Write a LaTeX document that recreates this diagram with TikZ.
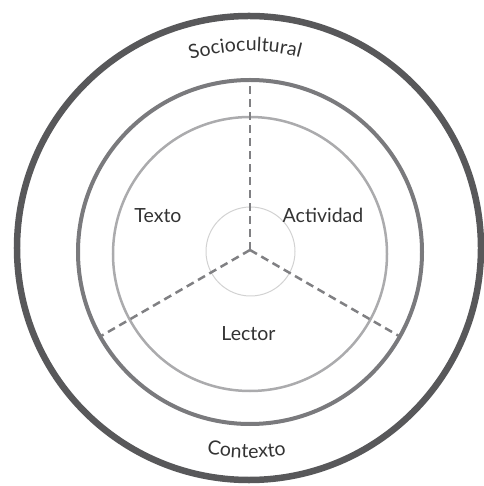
\documentclass[tikz,border=0pt]{standalone}
\usepackage{fontspec}
\setmainfont{Lato}
\usetikzlibrary{decorations.text}
\definecolor{anilloext}{HTML}{58585A}
\definecolor{anillomed}{HTML}{7A7A7D}
\definecolor{anilloint}{HTML}{ABABAD}
\definecolor{nucleo}{HTML}{D2D2D2}
\definecolor{trazo}{HTML}{808083}
\definecolor{letra}{HTML}{333333}
\newcommand{\rotulo}{\fontsize{19.5}{22}\selectfont\color{letra}}
\tikzset{
  corte/.style={line width=2.5pt, color=trazo, dash pattern=on 8pt off 5pt},
  rotulo/.style={font=\rotulo, anchor=base, inner sep=0pt}
}
\begin{document}
\begin{tikzpicture}[x=1pt, y=1pt, line join=round]
\useasboundingbox (-250,-236) rectangle (233,250);
\path
(0,0) coordinate (O)
(-1,2) coordinate (Cext)
(0,-2) coordinate (Cmed)
(0,-4) coordinate (Cint)
(0.5,-1.5) coordinate (Cnuc)
(90:170) coordinate (A)
(210:172) coordinate (B)
(330:172) coordinate (D)
;
% anillos
\draw[line width=6.5pt, anilloext] (Cext) circle (232);
\draw[line width=4pt, anillomed] (Cmed) circle (172);
\draw[line width=2.5pt, anilloint] (Cint) circle (137);
\draw[line width=1pt, nucleo] (Cnuc) circle (44.5);
% sectores
\foreach \x in {A,B,D}
\draw[corte] (O) -- (\x);
% rotulos
\node[rotulo] (texto) at (-92,27) {Texto};
\node[rotulo] (actividad) at (73,27) {Actividad};
\node[rotulo] (lector) at (-1.5,-91) {Lector};
\path[decorate, decoration={text along path, text align=center,
  text={|\rotulo|Sociocultural}}]
(O) ++(141.4:199) arc[start angle=141.4, end angle=41.4, radius=199];
\path[decorate, decoration={text along path, text align=center,
  text={|\rotulo|Contexto}}]
(O) ++(219:208) arc[start angle=219, end angle=319, radius=208];
\end{tikzpicture}
\end{document}
